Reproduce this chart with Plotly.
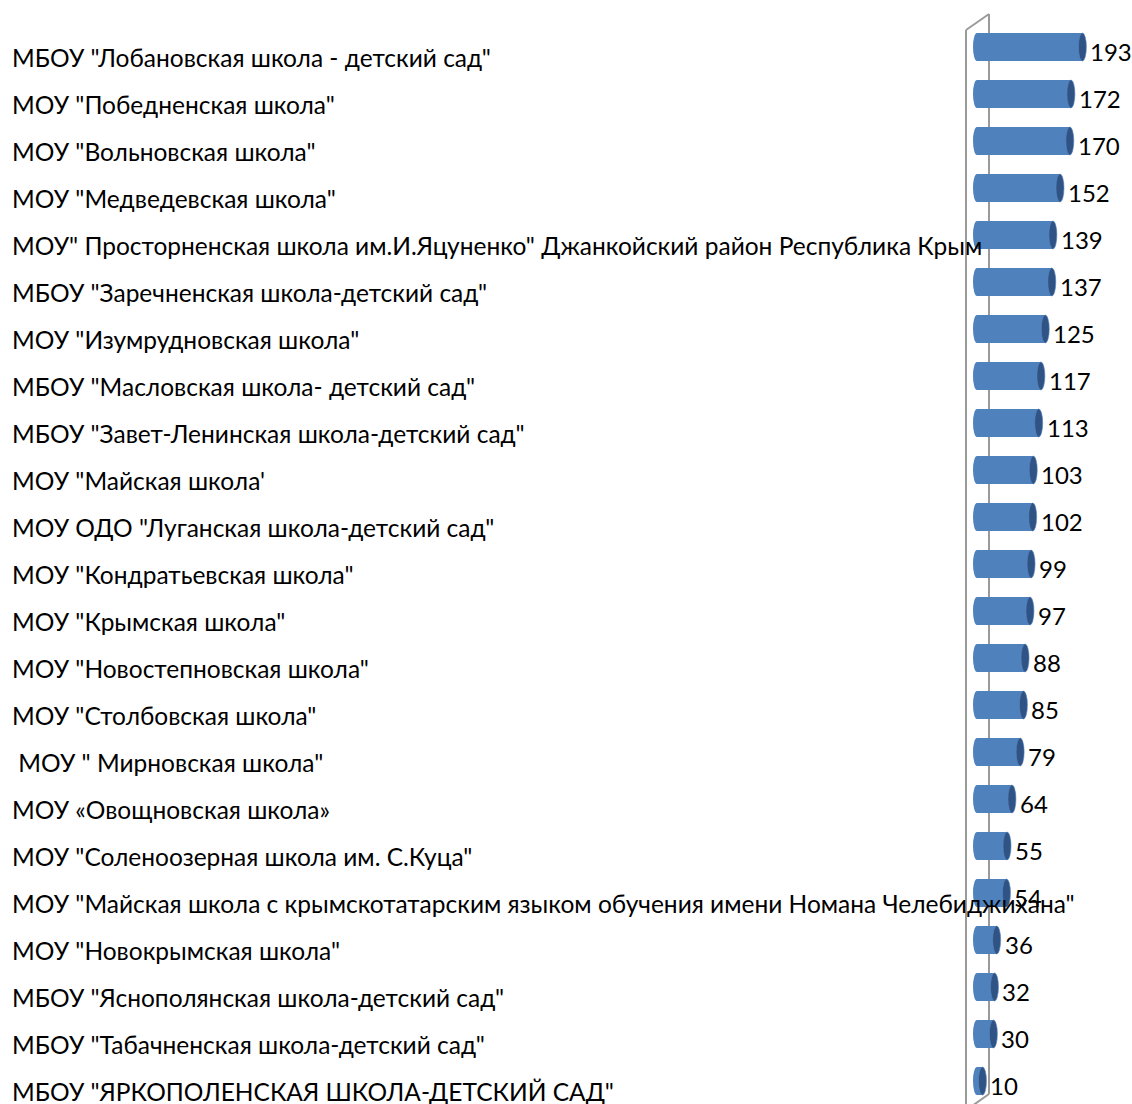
import plotly.graph_objects as go

labels = [
    'МБОУ "Лобановская школа - детский сад"',
    'МОУ "Победненская школа"',
    'МОУ "Вольновская школа"',
    'МОУ "Медведевская школа"',
    'МОУ" Просторненская школа им.И.Яцуненко" Джанкойский район Республика Крым',
    'МБОУ "Заречненская школа-детский сад"',
    'МОУ "Изумрудновская школа"',
    'МБОУ "Масловская школа- детский сад"',
    'МБОУ "Завет-Ленинская школа-детский сад"',
    'МОУ "Майская школа\'',
    'МОУ ОДО "Луганская школа-детский сад"',
    'МОУ "Кондратьевская школа"',
    'МОУ "Крымская школа"',
    'МОУ "Новостепновская школа"',
    'МОУ "Столбовская школа"',
    ' МОУ " Мирновская школа"',
    'МОУ «Овощновская школа»',
    'МОУ "Соленоозерная школа им. С.Куца"',
    'МОУ "Майская школа с крымскотатарским языком обучения имени Номана Челебиджихана"',
    'МОУ "Новокрымская школа"',
    'МБОУ "Яснополянская школа-детский сад"',
    'МБОУ "Табачненская школа-детский сад"',
    'МБОУ "ЯРКОПОЛЕНСКАЯ ШКОЛА-ДЕТСКИЙ САД"',
]
values = [193, 172, 170, 152, 139, 137, 125, 117, 113, 103, 102, 99, 97, 88, 85, 79,
          64, 55, 54, 36, 32, 30, 10]

W, H = 1132, 1104
FONT = "Lato, Carlito, 'Noto Sans', sans-serif"
BODY = "#4F81BD"
CAP = "#2E5384"

# pixel geometry of the plot
x0_pix = 977.0       # pixel of value 0
px_per_unit = 0.546
row0_pix = 47.0      # pixel centre of first row
row_step = 47.0

idx = list(range(len(values)))

fig = go.Figure()
fig.add_trace(go.Bar(
    x=values, y=idx, orientation="h", width=28 / row_step,
    marker=dict(color=BODY, line=dict(width=0)),
    hoverinfo="x+y", showlegend=False,
))

shapes = []
def P(xp, yp):
    return xp / W, 1 - yp / H

wall_col = "#9a9a9a"
for (ax, ay), (bx, by) in [((966, 30), (966, 1104)), ((989, 14), (989, 1094)),
                           ((966, 30), (989, 14)), ((989, 1094), (972, 1106))]:
    xa, ya = P(ax, ay)
    xb, yb = P(bx, by)
    shapes.append(dict(type="line", xref="paper", yref="paper", x0=xa, y0=ya, x1=xb, y1=yb,
                       line=dict(color=wall_col, width=2), layer="below"))

annotations = []
for i, (lab, v) in enumerate(zip(labels, values)):
    shapes.append(dict(type="circle", xref="x", yref="y", xsizemode="pixel", ysizemode="pixel",
                       xanchor=0, yanchor=i, x0=-4, x1=4, y0=-14, y1=14,
                       fillcolor=BODY, line=dict(width=0), layer="above"))
    shapes.append(dict(type="circle", xref="x", yref="y", xsizemode="pixel", ysizemode="pixel",
                       xanchor=v, yanchor=i, x0=-4, x1=4, y0=-14, y1=14,
                       fillcolor=CAP, line=dict(color="#5b86c0", width=0.6), layer="above"))
    annotations.append(dict(x=v, y=i, xref="x", yref="y", text=str(v), showarrow=False,
                            xanchor="left", yanchor="middle", xshift=6, yshift=-4,
                            font=dict(family=FONT, size=24, color="#000")))
    text = ("\u00a0" + lab[1:]) if lab.startswith(" ") else lab
    annotations.append(dict(x=10 / W, y=i, xref="paper", yref="y", text=text, showarrow=False,
                            xanchor="left", yanchor="middle", yshift=-10,
                            font=dict(family=FONT, size=24.5, color="#000")))

fig.update_layout(
    width=W, height=H,
    margin=dict(l=0, r=0, t=0, b=0),
    paper_bgcolor="white", plot_bgcolor="white",
    xaxis=dict(range=[(0 - x0_pix) / px_per_unit, (W - x0_pix) / px_per_unit],
               visible=False, fixedrange=True),
    yaxis=dict(range=[(H - row0_pix) / row_step, -row0_pix / row_step],
               visible=False, fixedrange=True),
    shapes=shapes, annotations=annotations,
    bargap=0,
)

fig.write_html("out.html", config={"displayModeBar": False},
               post_script="document.body.style.margin='0';")
